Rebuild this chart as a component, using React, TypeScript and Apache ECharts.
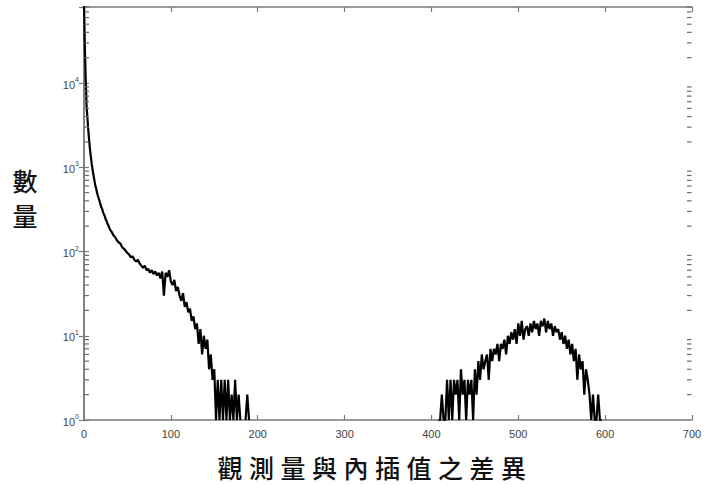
import React, { useEffect, useRef } from "react";
import * as echarts from "echarts";

// Histogram of (observation - interpolated value) differences, counts per bin
const headStart = 0; // per-unit bins 0..30
const headStep = 1;
const headCounts = [
  90000, 26000, 11000, 5200, 3800, 2700, 2050, 1600, 1300, 1080,
  920, 800, 700, 610, 560, 500, 460, 425, 395, 360,
  335, 318, 292, 276, 262, 240, 232, 214, 206, 192, 182,
];

const tailStart = 32; // 2-unit bins 32..190
const tailStep = 2;
const tailCounts = [
  170, 155, 148, 135, 128, 124, 112, 108, 102, 96,
  92, 85, 88, 80, 76, 80, 72, 68, 64, 68,
  60, 62, 56, 60, 54, 58, 52, 56, 48, 58,
  30, 56, 50, 60, 44, 40, 46, 34, 38, 30,
  26, 32, 22, 25, 19, 21, 15, 17, 12, 14,
  8, 12, 6, 10, 7, 9, 4, 6, 3, 4,
  1, 3, 1, 3, 1, 3, 1, 3, 1, 2,
  1, 3, 1, 2, 1, null, null, 1, 2, 1,
];

const humpStart = 396; // 2-unit bins 396..598
const humpStep = 2;
const humpCounts = [
  null, 1, null, null, null, null, 1, 1, 2, 1,
  1, 3, 1, 3, 1, 3, 2, 3, 1, 4,
  2, 3, 1, 3, 2, 3, 1, 4, 2, 5,
  3, 6, 4, 5, 6, 3, 7, 5, 7, 6,
  8, 5, 8, 7, 9, 6, 10, 8, 11, 9,
  12, 8, 14, 10, 15, 9, 12, 13, 10, 14,
  11, 15, 12, 14, 10, 15, 13, 16, 11, 15,
  12, 14, 10, 13, 11, 12, 9, 11, 8, 10,
  7, 9, 6, 8, 5, 7, 3, 6, 4, 5,
  2, 4, 3, 2, 1, 2, 1, 1, 2, 1,
  1, null,
];

const yMajor = [1, 10, 100, 1000, 10000];
const yMinorFactors = [2, 3, 4, 5, 6, 7, 8, 9];
const yMax = 80000;

const xTitle = "觀測量與內插值之差異";
const yTitleChars = ["數", "量"];

function toPairs(start: number, step: number, counts: (number | null)[]) {
  return counts.map((c, i) => [start + i * step, c === null ? "-" : c]);
}

export default function App() {
  const ref = useRef<HTMLDivElement>(null);
  useEffect(() => {
    if (!ref.current) return;
    const chart = echarts.init(ref.current, null, { renderer: "svg" });
    const data = [
      ...toPairs(headStart, headStep, headCounts),
      ...toPairs(tailStart, tailStep, tailCounts),
      [200, "-"],
      ...toPairs(humpStart, humpStep, humpCounts),
    ];
    const minorTicks: number[] = [];
    yMajor.forEach((m) => {
      yMinorFactors.forEach((f) => {
        if (m * f <= yMax) minorTicks.push(m * f);
      });
    });
    const axisColor = "#7a7a7a";
    const labelFont = {
      fontFamily: "Liberation Sans, Arial, sans-serif",
      fontSize: 11,
      color: "#444444",
    };
    const tickStyle = { color: axisColor, width: 1.2 };
    const yLog = {
      type: "log" as const,
      logBase: 10,
      min: 1,
      max: yMax,
      splitLine: { show: false },
      axisLine: { show: true, lineStyle: { color: axisColor, width: 1.5 } },
      axisTick: { show: true, inside: true, length: 5, lineStyle: tickStyle },
    };
    const xBase = {
      type: "value" as const,
      min: 0,
      max: 700,
      interval: 100,
      splitLine: { show: false },
      axisLine: { show: true, lineStyle: { color: axisColor, width: 1.5 } },
      axisTick: { show: true, inside: true, length: 5, lineStyle: tickStyle },
    };
    const minorTickSeries = (edge: number, dir: number) => ({
      type: "custom",
      xAxisIndex: 0,
      yAxisIndex: 0,
      silent: true,
      clip: false,
      z: 4,
      data: minorTicks.map((v) => [edge, v]),
      encode: { x: 0, y: 1 },
      renderItem: (params: any, api: any) => {
        const p = api.coord([edge, api.value(1)]);
        return {
          type: "line",
          shape: { x1: p[0] + dir * 0.5, y1: p[1], x2: p[0] + dir * 5, y2: p[1] },
          style: { stroke: "#6a6a6a", lineWidth: 1.2 },
        };
      },
    });
    chart.setOption({
      animation: false,
      backgroundColor: "#ffffff",
      grid: { left: 84, right: 13, top: 7, bottom: 65 },
      xAxis: [
        {
          ...xBase,
          position: "bottom",
          axisLabel: { ...labelFont, margin: 8 },
        },
        { ...xBase, position: "top", axisLabel: { show: false } },
      ],
      yAxis: [
        {
          ...yLog,
          position: "left",
          axisLabel: {
            margin: 5,
            showMaxLabel: false,
            formatter: (v: number) => {
              const e = Math.log10(v);
              if (Math.abs(e - Math.round(e)) > 1e-6) return "";
              return `{b|10}{s|${Math.round(e)}}`;
            },
            rich: {
              b: { ...labelFont, fontSize: 11, lineHeight: 14, verticalAlign: "bottom" },
              s: { ...labelFont, fontSize: 7, lineHeight: 14, verticalAlign: "top", padding: [0, 0, 5, 0] },
            },
          },
        },
        { ...yLog, position: "right", axisLabel: { show: false } },
      ],
      graphic: [
        ...Array.from(xTitle).map((ch, i) => ({
          type: "text",
          x: 230 + i * 31.5,
          y: 467,
          style: {
            text: ch,
            font: '500 25px "Noto Sans CJK TC", sans-serif',
            fill: "#111",
            textAlign: "center",
            textVerticalAlign: "middle",
          },
        })),
        ...yTitleChars.map((ch, i) => ({
          type: "text",
          x: 25,
          y: 180 + i * 35,
          style: {
            text: ch,
            font: '500 25px "Noto Sans CJK TC", sans-serif',
            fill: "#111",
            textAlign: "center",
            textVerticalAlign: "middle",
          },
        })),
      ],
      series: [
        {
          type: "line",
          data,
          xAxisIndex: 0,
          yAxisIndex: 0,
          showSymbol: false,
          symbol: "none",
          connectNulls: false,
          clip: true,
          z: 3,
          lineStyle: { color: "#000", width: 2.2 },
        },
        minorTickSeries(0, 1),
        minorTickSeries(700, -1),
      ],
    });
    return () => chart.dispose();
  }, []);
  return <div ref={ref} style={{ width: 705, height: 485, position: "absolute", left: 0, top: 0 }} />;
}
